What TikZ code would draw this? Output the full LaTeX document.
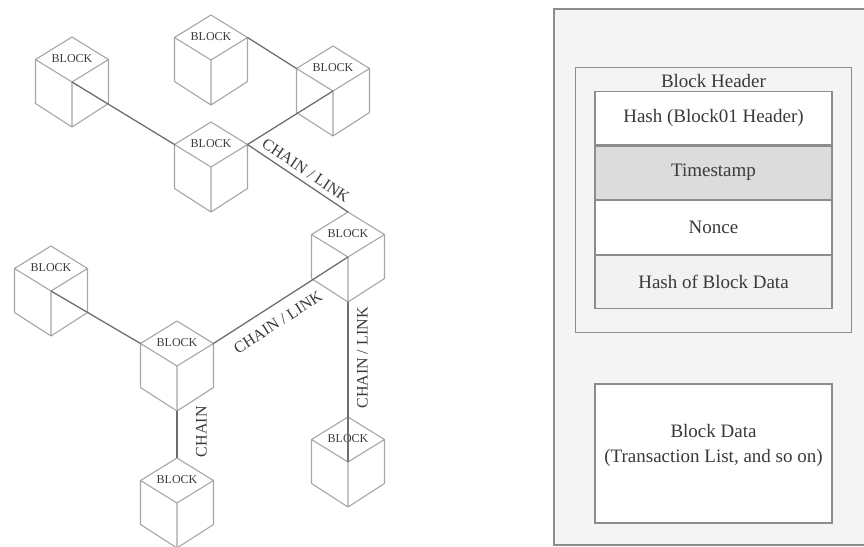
\documentclass[tikz,border=0pt]{standalone}
\usepackage{fontspec}
\setmainfont{Liberation Serif}
\usetikzlibrary{positioning,fit,backgrounds}
\definecolor{cubegray}{HTML}{A6A6A6}
\definecolor{chaingray}{HTML}{6E6E6E}
\definecolor{textgray}{HTML}{3A3A3A}
\definecolor{panelfill}{HTML}{F4F4F4}
\definecolor{panelline}{HTML}{8C8C8C}
\definecolor{stampfill}{HTML}{DCDCDC}
\definecolor{lastfill}{HTML}{F2F2F2}

\tikzset{
  cube/.pic={
    \coordinate (-c) at (0,0);
    \coordinate (-t) at (0,-45);
    \coordinate (-l) at (-36.5,-22.5);
    \coordinate (-r) at (36.5,-22.5);
    \coordinate (-bl) at (-36.5,21.5);
    \coordinate (-br) at (36.5,21.5);
    \coordinate (-b) at (0,45);
    \draw[cubeline] (-t) -- (-r) -- (-br) -- (-b) -- (-bl) -- (-l) -- cycle
      (-l) -- (-c) -- (-r) (-c) -- (-b);
    \node[blocktext] (-lbl) at (0,-23) {BLOCK};
  }
}

\begin{document}
\begin{tikzpicture}[
  x=0.5pt, y=-0.5pt,
  cubeline/.style={draw=cubegray, line width=0.55pt, line join=round},
  blocktext/.style={font=\fontsize{6}{7}\selectfont, text=textgray, inner sep=0pt},
  chain/.style={draw=chaingray, line width=0.65pt},
  chainlabel/.style={font=\fontsize{8}{9.6}\selectfont, text=textgray, inner sep=1pt},
  rowbox/.style={draw=panelline, line width=0.6pt, minimum width=118.5pt, minimum height=26.75pt, inner sep=0pt, font=\fontsize{9.5}{12.5}\selectfont, text=textgray},
  paneltext/.style={font=\fontsize{9.5}{12.5}\selectfont, text=textgray, inner sep=1pt, align=center},
]
\useasboundingbox (0,0) rectangle (864,547);

% Blocks
\pic (c1) at (72,82) {cube};
\pic (c2) at (211,60) {cube};
\pic (c3) at (333,91) {cube};
\pic (c4) at (211,167) {cube};
\pic (c5) at (348,257) {cube};
\pic (c6) at (51,291) {cube};
\pic (c7) at (177,366) {cube};
\pic (c8) at (177,503) {cube};
\pic (c9) at (348,462) {cube};

% Chains
\draw[chain] (c1-c) -- (c4-l);
\draw[chain] (c2-r) -- (c3-l);
\draw[chain] (c3-c) -- (c4-r);
\draw[chain] (c4-r) -- node[chainlabel, pos=0.52, sloped, above=1.5pt] {CHAIN / LINK} (c5-t);
\draw[chain] (c7-r) -- node[chainlabel, pos=0.41, sloped, below=4.5pt] {CHAIN / LINK} (c5-c);
\draw[chain] (c6-c) -- (c7-l);
\draw[chain] (c7-b) -- node[chainlabel, pos=0.44, rotate=90, anchor=north, outer sep=8.5pt] {CHAIN} (c8-t);
\draw[chain] (c5-b) -- node[chainlabel, pos=0.35, rotate=90, anchor=north, outer sep=3.5pt] {CHAIN / LINK} (c9-c);

% Block header rows
\node[rowbox, fill=white] (hash) at (713.5,118) {Hash (Block01 Header)};
\node[rowbox, fill=stampfill, below=0pt of hash] (stamp) {Timestamp};
\node[rowbox, fill=white, below=0pt of stamp] (nonce) {Nonce};
\node[rowbox, fill=lastfill, below=0pt of nonce] (datahash) {Hash of Block Data};
\node[paneltext, above=0.5pt of hash] (hdrtitle) {Block Header};

% Block data
\node[rowbox, fill=white, minimum height=69.5pt] (data) at (713.5,453.5) {};
\node[paneltext] (datatext) at ([yshift=4pt]data.center) {Block Data\\(Transaction List, and so on)};

\begin{scope}[on background layer]
  \path[draw=panelline, line width=0.6pt, fill=panelfill] (874,9) -| (554,545) -- (874,545);
  \node[draw=panelline, line width=0.6pt, fill=panelfill, fit=(hash)(datahash), inner xsep=9.5pt, inner ysep=11.5pt] (header) {};
\end{scope}
\end{tikzpicture}
\end{document}
